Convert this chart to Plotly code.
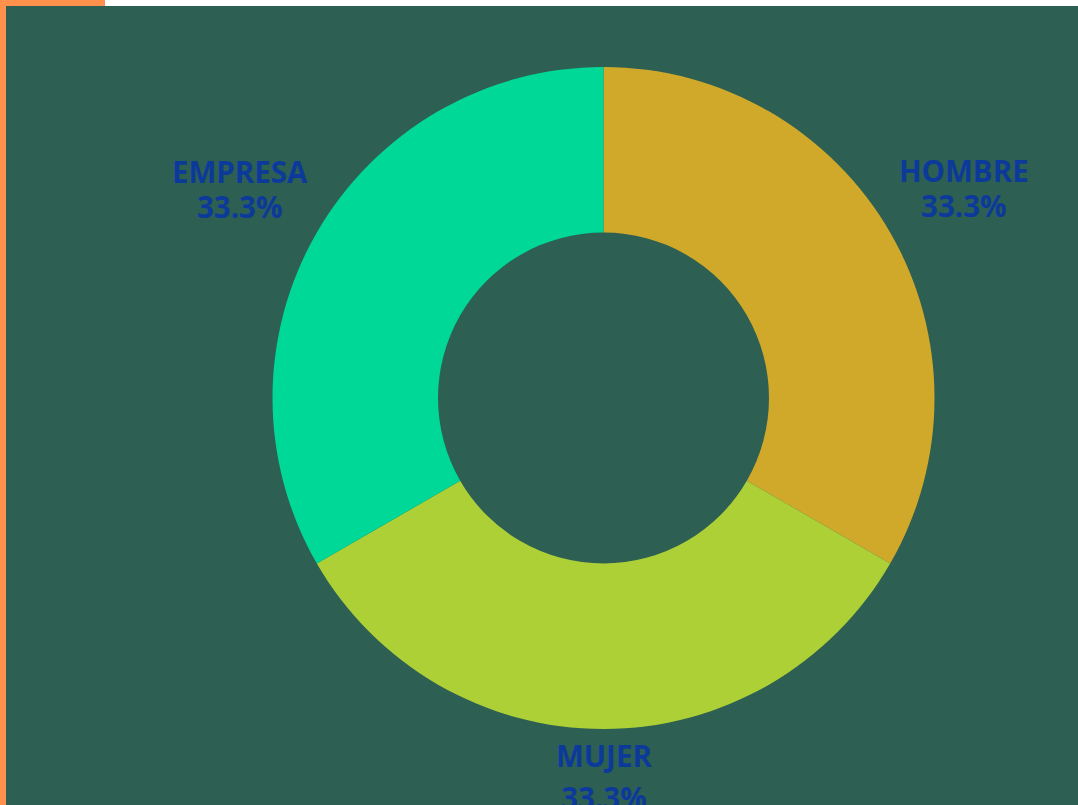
import math
import plotly.graph_objects as go

labels = ["HOMBRE", "MUJER", "EMPRESA"]
values = [1, 1, 1]
slice_colors = ["#D0A92A", "#ADD037", "#00D897"]

W, H = 1078, 805
cx, cy, r = 603.5, 398, 331
text_size = 29.5
text_color = "#0C3A9B"

fig = go.Figure(go.Pie(
    labels=labels,
    values=values,
    hole=0.5,
    sort=False,
    direction="clockwise",
    rotation=0,
    marker=dict(colors=slice_colors, line=dict(width=0)),
    textinfo="none",
    hoverinfo="label+percent",
    showlegend=False,
    domain=dict(x=[(cx - r) / W, (cx + r) / W], y=[(H - cy - r) / H, (H - cy + r) / H]),
))

# Outside labels placed along each slice's mid-angle (derived from the data)
total = sum(values)
cum = 0.0
annotations = []
for lab, v in zip(labels, values):
    frac = v / total
    mid = (cum + frac / 2) * 2 * math.pi
    cum += frac
    dx, dy = math.sin(mid), math.cos(mid)
    upper = dy > 0
    label_r = r + (8 if upper else 4)
    base_size = 27 if upper else 32   # controls line spacing
    px = cx + label_r * dx
    py = cy - label_r * dy
    if abs(dx) < 0.2:
        xa = "center"
    else:
        xa = "left" if dx > 0 else "right"
    if abs(dy) < 0.2:
        ya = "middle"
    else:
        ya = "bottom" if upper else "top"
    span = f"<span style='font-size:{text_size}px'>"
    annotations.append(dict(
        xref="paper", yref="paper", x=px / W, y=1 - py / H,
        xanchor=xa, yanchor=ya, align="center", showarrow=False,
        text=f"{span}{lab}</span><br>{span}{frac * 100:.1f}%</span>",
        font=dict(family="Open Sans", size=base_size, color=text_color, weight="bold"),
    ))

fig.update_layout(
    width=W, height=H,
    margin=dict(l=0, r=0, t=0, b=0),
    paper_bgcolor="#2E5F53",
    plot_bgcolor="#2E5F53",
    annotations=annotations,
    shapes=[
        dict(type="rect", xref="paper", yref="paper", x0=0, x1=6 / W, y0=0, y1=1,
             fillcolor="#FF914D", line=dict(width=0), layer="above"),
        dict(type="rect", xref="paper", yref="paper", x0=0, x1=105 / W, y0=1 - 6 / H, y1=1,
             fillcolor="#FF914D", line=dict(width=0), layer="above"),
        dict(type="rect", xref="paper", yref="paper", x0=105 / W, x1=1, y0=1 - 6 / H, y1=1,
             fillcolor="#FFFFFF", line=dict(width=0), layer="above"),
    ],
)

fig.write_html("out.html", config={"displayModeBar": False},
               post_script="document.body.style.margin='0';")
